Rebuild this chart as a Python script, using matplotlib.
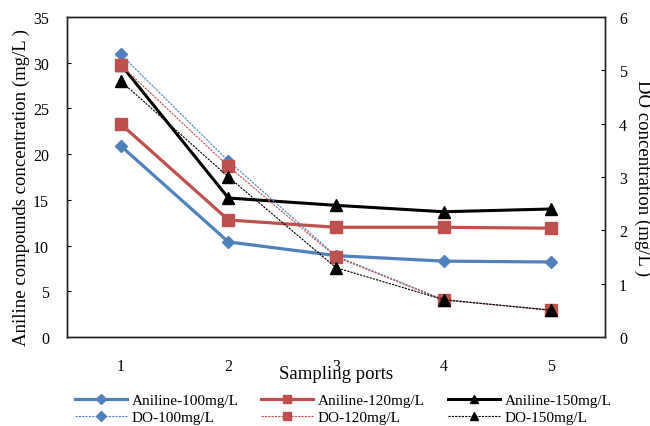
import matplotlib
matplotlib.use("Agg")
import matplotlib.pyplot as plt
from matplotlib.ticker import MultipleLocator

plt.rcParams['font.family'] = ['Liberation Serif', 'DejaVu Serif']
plt.rcParams['mathtext.fontset'] = 'stix'

ports = [1, 2, 3, 4, 5]
port_labels = ['1', '2', '3', '4', '5']

aniline_100 = [20.9, 10.4, 8.9, 8.3, 8.2]
aniline_120 = [23.3, 12.8, 12.0, 12.0, 11.9]
aniline_150 = [29.8, 15.2, 14.4, 13.7, 14.0]

do_100 = [5.3, 3.3, 1.52, 0.7, 0.5]
do_120 = [5.1, 3.2, 1.5, 0.69, 0.51]
do_150 = [4.8, 3.0, 1.3, 0.7, 0.5]

blue = '#4F81BD'
red = '#C0504D'
black = '#000000'

fig = plt.figure(figsize=(6.5, 4.27), dpi=100)
ax = fig.add_axes([67/650, 1-338/427, (605-67)/650, (338-18)/427])
ax2 = ax.twinx()

l1, = ax.plot(ports, aniline_100, color=blue, lw=2.3, marker='D', ms=6.5, label='Aniline-100mg/L')
l2, = ax.plot(ports, aniline_120, color=red, lw=2.3, marker='s', ms=8, label='Aniline-120mg/L')
l3, = ax.plot(ports, aniline_150, color=black, lw=2.2, marker='^', ms=8, label='Aniline-150mg/L')

d1, = ax2.plot(ports, do_100, color=blue, lw=0.8, ls=(0, (2, 1)), marker='D', ms=6.5, label='DO-100mg/L')
d2, = ax2.plot(ports, do_120, color=red, lw=0.8, ls=(0, (2, 1)), marker='s', ms=8, label='DO-120mg/L')
d3, = ax2.plot(ports, do_150, color=black, lw=0.8, ls=(0, (2, 1)), marker='^', ms=8, label='DO-150mg/L')

ax.set_xlim(0.5, 5.5)
ax.set_ylim(0, 35)
ax2.set_ylim(0, 6)
ax.yaxis.set_major_locator(MultipleLocator(5))
ax2.yaxis.set_major_locator(MultipleLocator(1))
ax.set_xticks(ports)
ax.set_xticklabels(port_labels)

ax.tick_params(axis='y', direction='in', length=3, width=0.8, pad=13, labelsize=11.5)
ax.tick_params(axis='x', length=0, pad=15, labelsize=11.5)
ax2.tick_params(axis='y', direction='in', length=3, width=0.8, pad=10, labelsize=11.5)

for a in (ax, ax2):
    for s in a.spines.values():
        s.set_linewidth(1.0)
        s.set_color('#222222')

ax.set_ylabel('Aniline compounds concentration (mg/L )', fontsize=13.5)
ax2.set_ylabel('DO concentration (mg/L )', fontsize=13.5, rotation=270, va='center')
ax2.yaxis.set_label_coords(1.07, 0.5)
ax.yaxis.label.set_va('center')
ax.yaxis.set_label_coords(-0.085, 0.47)
ax.set_xlabel('Sampling ports', fontsize=13.5, labelpad=-6)

handles = [l1, d1, l2, d2, l3, d3]
fig.legend(handles=handles, labels=[h.get_label() for h in handles], ncol=3,
           loc='center', bbox_to_anchor=(0.528, 1-410/427), frameon=False,
           fontsize=11, handlelength=3.4, handletextpad=0.3, columnspacing=1.5,
           labelspacing=0.2, borderpad=0, markerscale=0.75)

fig.savefig('out.png', dpi=100)
